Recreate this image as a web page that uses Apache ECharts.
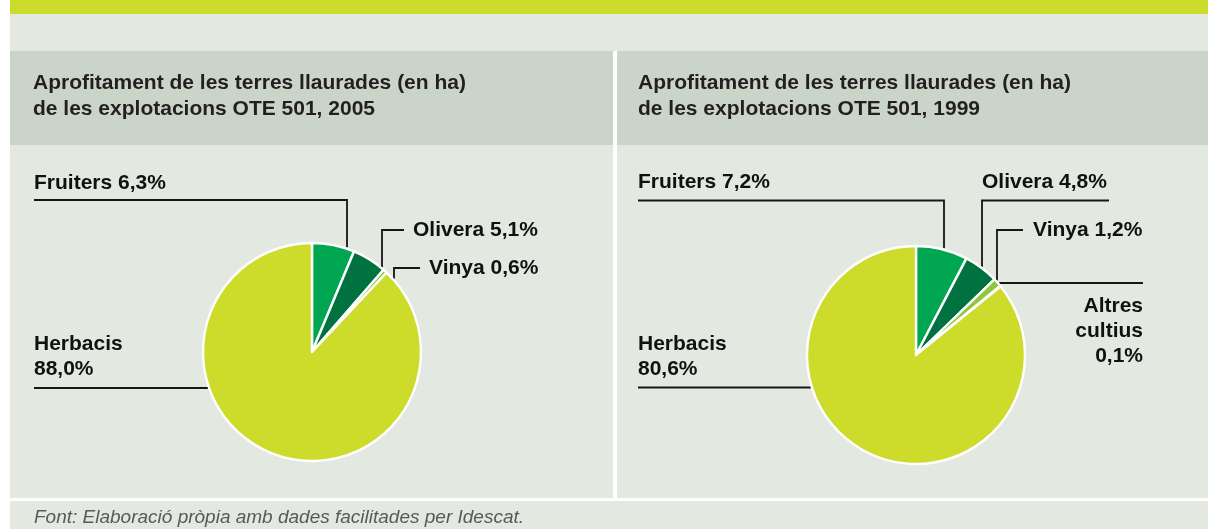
<!DOCTYPE html>
<html>
<head>
<meta charset="utf-8">
<script src="https://cdn.jsdelivr.net/npm/echarts@6/dist/echarts.min.js"></script>
<style>
  html, body { margin: 0; padding: 0; background: #fff; }
  #chart { width: 1208px; height: 529px; }
</style>
</head>
<body>
<div id="chart"></div>
<script>
// dades
const categories2005 = ['Fruiters', 'Olivera', 'Vinya', 'Herbacis']
const values2005 = [6.3, 5.1, 0.6, 88.0]
const categories1999 = ['Fruiters', 'Olivera', 'Vinya', 'Altres cultius', 'Herbacis']
const values1999 = [7.2, 4.8, 1.2, 0.1, 80.6]

const titleText2005 = 'Aprofitament de les terres llaurades (en ha)\nde les explotacions OTE 501, 2005'
const titleText1999 = 'Aprofitament de les terres llaurades (en ha)\nde les explotacions OTE 501, 1999'
const sourceText = 'Font: Elaboració pròpia amb dades facilitades per Idescat.'

const sliceColors = {
  'Fruiters': '#00a651',
  'Olivera': '#00723f',
  'Vinya': '#8dc63f',
  'Altres cultius': '#d7e05a',
  'Herbacis': '#cddc2a'
}

const FONT = "'Liberation Sans', Arial, Helvetica, sans-serif"
const R = 110
const BG = '#e3e8e1'
const HEAD = '#cad4c9'

// posicio de les etiquetes i de les linies guia
const spots2005 = {
  'Fruiters': { x: 34, y: 183.5, align: 'left', lineY: 200, lineFar: 34, lineX: 347 },
  'Olivera': { x: 413, y: 230.5, align: 'left', lineY: 230, lineFar: 404, lineX: 382 },
  'Vinya': { x: 429, y: 268.5, align: 'left', lineY: 268, lineFar: 420, lineX: 394 },
  'Herbacis': { x: 34, y: 357, align: 'left', lineY: 388, lineFar: 34, stack: true }
}
const spots1999 = {
  'Fruiters': { x: 638, y: 182.5, align: 'left', lineY: 200.5, lineFar: 638, lineX: 944 },
  'Olivera': { x: 982, y: 182.5, align: 'left', lineY: 200.5, lineFar: 1109, lineX: 982 },
  'Vinya': { x: 1033, y: 230.5, align: 'left', lineY: 230, lineFar: 1023, lineX: 997 },
  'Altres cultius': { x: 1143, y: 331, align: 'right', lineY: 283, lineFar: 1143, stack: true },
  'Herbacis': { x: 638, y: 357, align: 'left', lineY: 387.5, lineFar: 638, stack: true }
}

const leader = (s, cx, cy) => {
  if (s.lineX != null) {
    const dx = s.lineX - cx
    return [[s.lineFar, s.lineY], [s.lineX, s.lineY], [s.lineX, cy - Math.sqrt(R * R - dx * dx)]]
  }
  const dy = s.lineY - cy
  const side = s.lineFar < cx ? -1 : 1
  return [[s.lineFar, s.lineY], [cx + side * Math.sqrt(R * R - dy * dy), s.lineY]]
}

const fmt = v => v.toFixed(1).replace('.', ',') + '%'

const makePie = (cats, vals, center, spots) => ({
  type: 'pie',
  z: 5,
  center: center,
  radius: [0, R - 1],
  startAngle: 90,
  clockwise: true,
  avoidLabelOverlap: false,
  animation: false,
  emphasis: { disabled: true },
  itemStyle: { borderColor: '#fff', borderWidth: 2.4 },
  data: cats.map((c, i) => ({ name: c, value: vals[i], itemStyle: { color: sliceColors[c] } })),
  label: {
    show: true,
    position: 'outside',
    color: '#111',
    fontFamily: FONT,
    fontSize: 21,
    fontWeight: 'bold',
    lineHeight: 25,
    formatter: p => {
      const t = p.name + ' ' + fmt(vals[p.dataIndex])
      return spots[p.name].stack ? t.replace(/ /g, '\n') : t
    }
  },
  labelLine: { show: true, length: 10, length2: 10, smooth: false, lineStyle: { color: '#161616', width: 1.8 } },
  labelLayout: p => {
    const s = spots[cats[p.dataIndex]]
    return { x: s.x, y: s.y, align: s.align, verticalAlign: 'middle', labelLinePoints: leader(s, center[0], center[1]) }
  }
})

const chart = echarts.init(document.getElementById('chart'))
chart.setOption({
  backgroundColor: '#fff',
  animation: false,
  title: [
    { text: titleText2005, left: 33, top: 70, padding: 0,
      textStyle: { fontFamily: FONT, fontSize: 21, fontWeight: 'bold', color: '#231f20', lineHeight: 26 } },
    { text: titleText1999, left: 638, top: 70, padding: 0,
      textStyle: { fontFamily: FONT, fontSize: 21, fontWeight: 'bold', color: '#231f20', lineHeight: 26 } },
    { text: sourceText, left: 34, top: 507, padding: 0,
      textStyle: { fontFamily: FONT, fontSize: 19, fontWeight: 'normal', fontStyle: 'italic', color: '#58595b', lineHeight: 22 } }
  ],
  graphic: [
    { type: 'rect', z: 0, silent: true, shape: { x: 10, y: 0, width: 1198, height: 14 }, style: { fill: '#cddc2a' } },
    { type: 'rect', z: 0, silent: true, shape: { x: 10, y: 14, width: 1198, height: 484 }, style: { fill: BG } },
    { type: 'rect', z: 0, silent: true, shape: { x: 10, y: 51, width: 603, height: 94 }, style: { fill: HEAD } },
    { type: 'rect', z: 0, silent: true, shape: { x: 617, y: 51, width: 591, height: 94 }, style: { fill: HEAD } },
    { type: 'rect', z: 0, silent: true, shape: { x: 613, y: 51, width: 4, height: 447 }, style: { fill: '#fff' } },
    { type: 'rect', z: 0, silent: true, shape: { x: 10, y: 501, width: 1198, height: 28 }, style: { fill: BG } }
  ],
  series: [
    makePie(categories2005, values2005, [312, 352], spots2005),
    makePie(categories1999, values1999, [916, 355], spots1999)
  ]
})
</script>
</body>
</html>
